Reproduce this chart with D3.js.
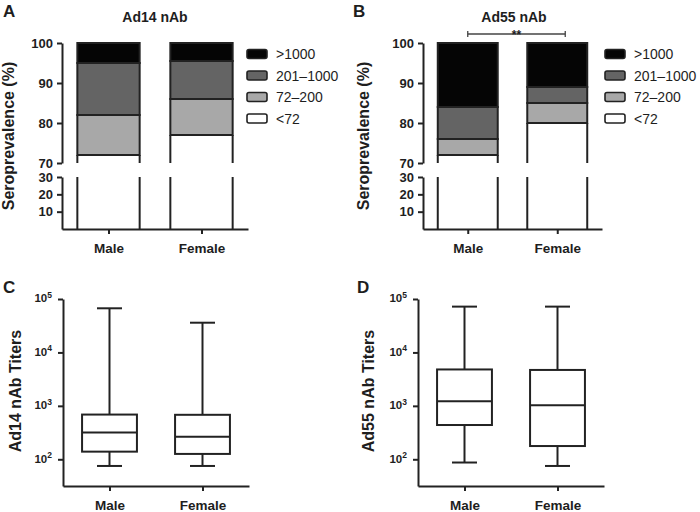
<!DOCTYPE html>
<html><head><meta charset="utf-8">
<script src="https://cdn.jsdelivr.net/npm/d3@7"></script>
<style>
body{margin:0;background:#fff}
svg{display:block}
text{font-family:"Liberation Sans",Arial,Helvetica,sans-serif;fill:#1e1e1e}
</style>
</head><body>
<svg id="chart" width="700" height="512"></svg>
<script>
// ---------- data ----------
const categories = ["Male", "Female"];
const levels = ["<72", "72–200", "201–1000", ">1000"];
// seroprevalence segments (%) per titer level, in order of `levels`
const ad14Male = [72, 10, 13, 5];
const ad14Female = [77, 9, 9.5, 4.5];
const ad55Male = [72, 4, 8, 16];
const ad55Female = [80, 5, 4, 11];
const upperTicks = [70, 80, 90, 100];
const lowerTicks = [10, 20, 30];
// box plots: [min, q1, median, q3, max]
const ad14MaleBox = [75, 139, 316, 687, 67000];
const ad14FemaleBox = [75, 126, 263, 680, 36000];
const ad55MaleBox = [87, 438, 1220, 4800, 72000];
const ad55FemaleBox = [75, 177, 1030, 4700, 72000];
const titerTicks = [100, 1000, 10000, 100000];
const significance = "**";

// ---------- styles ----------
const levelFill = ["#ffffff", "#a8a8a8", "#646464", "#050505"];
const ink = "#222";
const svg = d3.select("#chart");

function styleAxis(g) {
  g.selectAll("path.domain").attr("stroke", ink).attr("stroke-width", 2);
  g.selectAll(".tick line").attr("stroke", ink).attr("stroke-width", 2);
  g.selectAll(".tick text").attr("font-size", 13).attr("font-weight", "bold")
    .attr("fill", "#1e1e1e").style("font-family", '"Liberation Sans",Arial,sans-serif');
}

function label(txt, x, y, size, weight, anchor) {
  return svg.append("text").attr("x", x).attr("y", y).attr("font-size", size)
    .attr("font-weight", weight || "bold").attr("text-anchor", anchor || "start").text(txt);
}

function barPanel(o) {
  const g = svg.append("g");
  const x = d3.scalePoint().domain(categories).range(o.xr).padding(0.5);
  const yU = d3.scaleLinear().domain([70, 100]).range([163, 43]);
  const yL = d3.scaleLinear().domain([0, 30]).range([229, 177]);
  const bw = x.step() * 0.67;
  const rows = categories.map((c, i) => {
    const r = {cat: c};
    levels.forEach((l, j) => r[l] = o.data[i][j]);
    return r;
  });
  const series = d3.stack().keys(levels)(rows);
  series.forEach((s, j) => {
    s.forEach(d => {
      const cx = x(d.data.cat);
      const y0 = Math.max(d[0], 70), y1 = d[1];
      if (j === 0) {
        g.append("rect").attr("x", cx - bw / 2).attr("width", bw)
          .attr("y", yU(y1)).attr("height", yU(y0) - yU(y1)).attr("fill", levelFill[j]);
        [cx - bw / 2, cx + bw / 2].forEach(xx => {
          g.append("line").attr("x1", xx).attr("x2", xx).attr("y1", yU(y1)).attr("y2", yU(70))
            .attr("stroke", ink).attr("stroke-width", 2);
          g.append("line").attr("x1", xx).attr("x2", xx).attr("y1", yL(0)).attr("y2", yL(30))
            .attr("stroke", ink).attr("stroke-width", 2);
        });
        g.append("line").attr("x1", cx - bw / 2).attr("x2", cx + bw / 2).attr("y1", yU(y1)).attr("y2", yU(y1))
          .attr("stroke", ink).attr("stroke-width", 2);
      } else {
        g.append("rect").attr("x", cx - bw / 2).attr("width", bw)
          .attr("y", yU(y1)).attr("height", yU(y0) - yU(y1))
          .attr("fill", levelFill[j]).attr("stroke", ink).attr("stroke-width", 2);
      }
    });
  });
  const ax1 = g.append("g").attr("transform", `translate(${o.xr[0]},0)`)
    .call(d3.axisLeft(yU).tickValues(upperTicks).tickSize(5).tickSizeOuter(0).tickPadding(4));
  const ax2 = g.append("g").attr("transform", `translate(${o.xr[0]},0)`)
    .call(d3.axisLeft(yL).tickValues(lowerTicks).tickSize(5).tickSizeOuter(0).tickPadding(4));
  const axx = g.append("g").attr("transform", `translate(0,${yL(0)})`)
    .call(d3.axisBottom(x).tickSize(5).tickSizeOuter(0).tickPadding(9));
  [ax1, ax2, axx].forEach(styleAxis);
  axx.selectAll(".tick text").attr("font-size", 13.5);
  // legend
  const lg = svg.append("g");
  levels.slice().reverse().forEach((l, i) => {
    const j = levels.length - 1 - i;
    const yy = 54 + i * 21.5;
    lg.append("rect").attr("x", o.legX).attr("y", yy - 4.5).attr("width", 20).attr("height", 9)
      .attr("rx", 2).attr("fill", levelFill[j]).attr("stroke", ink).attr("stroke-width", 1.6);
    lg.append("text").attr("x", o.legX + 29).attr("y", yy + 5).attr("font-size", 14)
      .attr("fill", "#333").text(l);
  });
  label(o.title, o.titleX, 22, 14, "bold", "middle");
  label(o.letter, o.letterX, 17, 17, "bold");
  svg.append("text").attr("transform", `translate(${o.ylabX},${136}) rotate(-90)`)
    .attr("font-size", 16).attr("font-weight", "bold").attr("text-anchor", "middle")
    .text("Seroprevalence (%)");
  if (o.bracket) {
    const xa = x(categories[0]), xb = x(categories[1]) + 8, yb = 34;
    const bg = svg.append("g").attr("stroke", "#444").attr("stroke-width", 1.3);
    bg.append("line").attr("x1", xa).attr("x2", xb).attr("y1", yb).attr("y2", yb);
    bg.append("line").attr("x1", xa).attr("x2", xa).attr("y1", yb - 3).attr("y2", yb + 3);
    bg.append("line").attr("x1", xb).attr("x2", xb).attr("y1", yb - 3).attr("y2", yb + 3);
    label(o.bracket, (xa + xb) / 2, 39, 12, "bold", "middle");
  }
}

function boxPanel(o) {
  const g = svg.append("g");
  const x = d3.scalePoint().domain(categories).range(o.xr).padding(0.5);
  const y = d3.scaleLog().domain([Math.pow(10, 1.5), 1e5]).range([486, 299]);
  const bw = x.step() * 0.59, cw = 25;
  categories.forEach((c, i) => {
    const [mn, q1, md, q3, mx] = o.data[i];
    const cx = x(c);
    const s = (sel) => sel.attr("stroke", ink).attr("stroke-width", 2);
    s(g.append("line").attr("x1", cx).attr("x2", cx).attr("y1", y(mx)).attr("y2", y(mn)));
    s(g.append("line").attr("x1", cx - cw / 2).attr("x2", cx + cw / 2).attr("y1", y(mx)).attr("y2", y(mx)));
    s(g.append("line").attr("x1", cx - cw / 2).attr("x2", cx + cw / 2).attr("y1", y(mn)).attr("y2", y(mn)));
    s(g.append("rect").attr("x", cx - bw / 2).attr("width", bw).attr("y", y(q3))
      .attr("height", y(q1) - y(q3)).attr("fill", "#fff"));
    s(g.append("line").attr("x1", cx - bw / 2).attr("x2", cx + bw / 2).attr("y1", y(md)).attr("y2", y(md)));
  });
  const ay = g.append("g").attr("transform", `translate(${o.xr[0]},0)`)
    .call(d3.axisLeft(y).tickValues(titerTicks).tickSize(5).tickSizeOuter(0).tickPadding(6)
      .tickFormat(() => ""));
  const ax = g.append("g").attr("transform", "translate(0,486)")
    .call(d3.axisBottom(x).tickSize(5).tickSizeOuter(0).tickPadding(9));
  [ay, ax].forEach(styleAxis);
  ax.selectAll(".tick text").attr("font-size", 13.5);
  ay.selectAll(".tick text").each(function (d) {
    const t = d3.select(this).attr("font-size", 11.5).attr("dy", "0.25em");
    t.append("tspan").text("10");
    t.append("tspan").attr("dy", -4.5).attr("font-size", 8.5).text(Math.round(Math.log10(d)));
  });
  label(o.letter, o.letterX, 293, 17, "bold");
  svg.append("text").attr("transform", `translate(${o.ylabX},${391}) rotate(-90)`)
    .attr("font-size", 16).attr("font-weight", "bold").attr("text-anchor", "middle")
    .text(o.ylab);
}

barPanel({xr: [62, 248], data: [ad14Male, ad14Female], title: "Ad14 nAb", titleX: 155,
  letter: "A", letterX: 3, legX: 247, ylabX: 14});
barPanel({xr: [423, 602], data: [ad55Male, ad55Female], title: "Ad55 nAb", titleX: 514,
  letter: "B", letterX: 353, legX: 605, ylabX: 369, bracket: significance});
boxPanel({xr: [63, 249], data: [ad14MaleBox, ad14FemaleBox], letter: "C", letterX: 3,
  ylab: "Ad14 nAb Titers", ylabX: 21});
boxPanel({xr: [418, 604], data: [ad55MaleBox, ad55FemaleBox], letter: "D", letterX: 357,
  ylab: "Ad55 nAb Titers", ylabX: 374});
</script>
</body></html>
